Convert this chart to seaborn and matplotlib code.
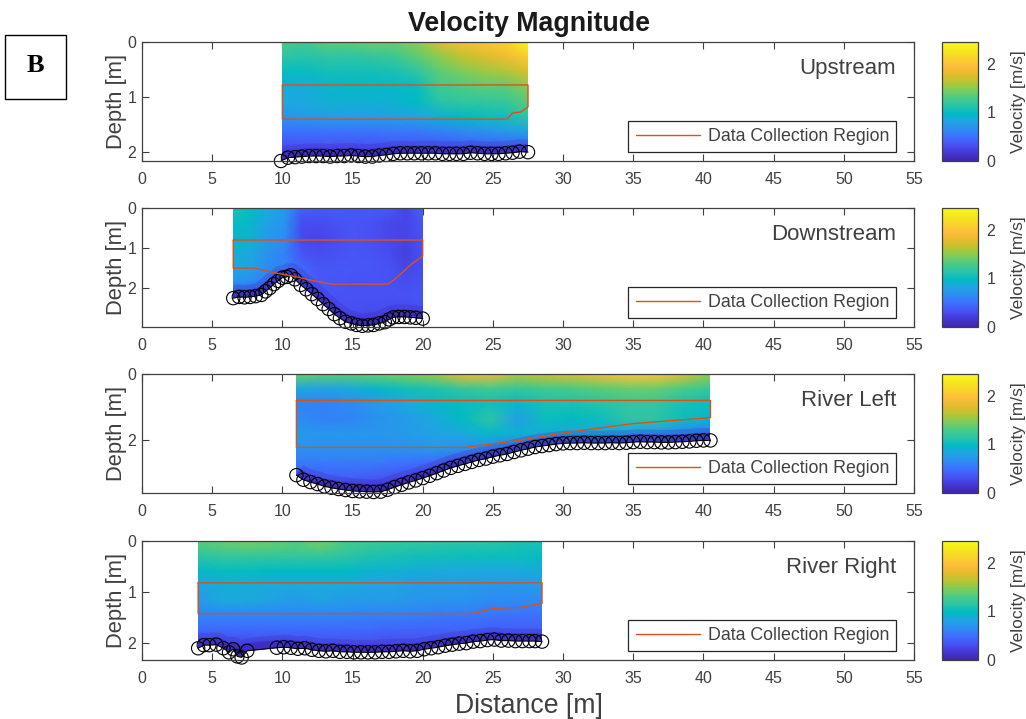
import matplotlib
matplotlib.use("Agg")
import matplotlib.pyplot as plt
from matplotlib.colors import LinearSegmentedColormap
from matplotlib.patches import Polygon, Rectangle
import numpy as np
import pandas as pd
import seaborn as sns

panel_names = ["Upstream", "Downstream", "River Left", "River Right"]
depth_limits = [2.16, 2.97, 3.6, 2.33]
depth_ticks = [[0, 1, 2], [0, 1, 2], [0, 2], [0, 1, 2]]
distance_ticks = list(range(0, 60, 5))
colorbar_ticks = [0, 1, 2]
legend_label = "Data Collection Region"

field_spans = [(10.0, 27.5), (6.5, 20.0), (11.0, 40.5), (4.0, 28.5)]

upstream_speed = [
    [1.30, 1.25, 1.35, 1.35, 1.40, 1.40, 1.50, 1.75, 1.90, 2.00, 2.10, 2.42],
    [1.15, 1.12, 1.15, 1.15, 1.18, 1.22, 1.35, 1.50, 1.65, 1.75, 1.85, 2.05],
    [1.00, 1.00, 1.05, 1.05, 1.05, 1.08, 1.15, 1.35, 1.45, 1.55, 1.60, 1.75],
    [0.88, 0.85, 0.92, 0.95, 0.95, 0.95, 1.00, 1.25, 1.30, 1.35, 1.35, 1.50],
    [0.85, 0.85, 0.90, 0.90, 0.90, 0.92, 0.98, 1.12, 1.18, 1.18, 1.20, 1.35],
    [0.72, 0.75, 0.78, 0.78, 0.78, 0.80, 0.82, 0.90, 0.98, 1.02, 1.05, 1.15],
    [0.50, 0.50, 0.52, 0.52, 0.52, 0.55, 0.55, 0.60, 0.65, 0.70, 0.75, 0.80],
    [0.32, 0.32, 0.32, 0.32, 0.32, 0.34, 0.35, 0.35, 0.38, 0.40, 0.42, 0.45],
    [0.15, 0.15, 0.15, 0.15, 0.15, 0.15, 0.15, 0.15, 0.15, 0.15, 0.15, 0.18],
]
downstream_speed = [
    [1.10, 1.00, 0.85, 0.75, 0.40, 0.38, 0.38, 0.35, 0.38, 0.38, 0.25, 0.42],
    [1.00, 0.95, 0.80, 0.70, 0.30, 0.30, 0.33, 0.35, 0.33, 0.27, 0.25, 0.35],
    [0.95, 0.90, 0.75, 0.65, 0.27, 0.25, 0.30, 0.35, 0.32, 0.27, 0.25, 0.33],
    [0.90, 0.85, 0.70, 0.60, 0.33, 0.30, 0.32, 0.35, 0.33, 0.30, 0.22, 0.33],
    [0.85, 0.80, 0.65, 0.60, 0.45, 0.35, 0.36, 0.36, 0.35, 0.33, 0.25, 0.30],
    [0.70, 0.65, 0.55, 0.50, 0.42, 0.37, 0.35, 0.33, 0.33, 0.33, 0.30, 0.33],
    [0.32, 0.30, 0.28, 0.28, 0.30, 0.33, 0.33, 0.33, 0.33, 0.33, 0.33, 0.35],
    [0.15, 0.15, 0.15, 0.15, 0.20, 0.26, 0.30, 0.30, 0.28, 0.28, 0.26, 0.30],
    [0.10, 0.10, 0.10, 0.10, 0.12, 0.15, 0.18, 0.18, 0.18, 0.18, 0.18, 0.20],
]
river_left_speed = [
    [1.40, 1.35, 1.35, 1.40, 1.45, 1.55, 1.80, 1.85, 1.60, 1.70, 1.75, 1.85, 2.00, 2.00, 1.75, 1.50],
    [0.85, 0.80, 0.85, 0.95, 1.05, 1.10, 1.20, 1.25, 1.20, 1.25, 1.30, 1.35, 1.40, 1.40, 1.30, 1.20],
    [0.62, 0.60, 0.65, 0.75, 0.85, 0.95, 1.00, 1.05, 0.95, 1.08, 1.08, 1.12, 1.18, 1.18, 1.08, 1.02],
    [0.65, 0.60, 0.62, 0.70, 0.75, 0.85, 0.98, 1.15, 0.78, 1.02, 0.98, 1.02, 1.15, 1.15, 1.02, 0.92],
    [0.75, 0.72, 0.72, 0.72, 0.75, 0.80, 0.85, 0.95, 0.90, 0.88, 0.85, 0.85, 0.78, 0.72, 0.62, 0.55],
    [0.70, 0.70, 0.70, 0.70, 0.70, 0.75, 0.70, 0.65, 0.55, 0.45, 0.40, 0.35, 0.30, 0.30, 0.30, 0.30],
    [0.55, 0.55, 0.55, 0.55, 0.50, 0.45, 0.35, 0.30, 0.20, 0.18, 0.15, 0.15, 0.15, 0.15, 0.15, 0.15],
    [0.35, 0.40, 0.40, 0.35, 0.30, 0.20, 0.15, 0.12, 0.10, 0.10, 0.10, 0.10, 0.10, 0.10, 0.10, 0.10],
    [0.15, 0.15, 0.12, 0.12, 0.12, 0.10, 0.10, 0.10, 0.10, 0.10, 0.10, 0.10, 0.10, 0.10, 0.10, 0.10],
]
river_right_speed = [
    [1.35, 1.40, 1.45, 1.40, 1.35, 1.45, 1.30, 1.25, 1.20, 1.20, 1.15, 1.15, 1.15, 1.10, 1.10],
    [1.15, 1.20, 1.20, 1.20, 1.20, 1.20, 1.15, 1.10, 1.08, 1.05, 1.05, 1.02, 1.02, 1.02, 1.00],
    [0.95, 1.00, 1.00, 0.98, 0.98, 0.98, 0.98, 0.92, 0.90, 0.88, 0.85, 0.85, 0.85, 0.85, 0.88],
    [0.80, 0.88, 0.88, 0.85, 0.85, 0.85, 0.85, 0.80, 0.80, 0.75, 0.75, 0.75, 0.72, 0.72, 0.75],
    [0.75, 0.85, 0.85, 0.80, 0.75, 0.80, 0.75, 0.75, 0.75, 0.72, 0.70, 0.70, 0.65, 0.65, 0.65],
    [0.62, 0.62, 0.62, 0.62, 0.62, 0.62, 0.62, 0.60, 0.60, 0.58, 0.55, 0.55, 0.52, 0.50, 0.50],
    [0.45, 0.45, 0.45, 0.45, 0.45, 0.45, 0.45, 0.45, 0.42, 0.42, 0.42, 0.42, 0.40, 0.40, 0.40],
    [0.25, 0.25, 0.25, 0.25, 0.28, 0.30, 0.30, 0.30, 0.28, 0.28, 0.28, 0.25, 0.20, 0.20, 0.20],
    [0.12, 0.12, 0.12, 0.12, 0.12, 0.12, 0.12, 0.12, 0.12, 0.12, 0.12, 0.12, 0.12, 0.12, 0.12],
]

upstream_bed_x = [9.9, 10.4, 10.9, 11.4, 11.9, 12.4, 12.9, 13.4, 13.9, 14.4, 14.9, 15.4, 15.9, 16.4,
                  16.9, 17.4, 17.9, 18.4, 18.9, 19.4, 19.9, 20.4, 20.9, 21.4, 21.9, 22.4, 22.9, 23.4,
                  23.9, 24.4, 24.9, 25.4, 25.9, 26.4, 26.9, 27.5]
upstream_bed_depth = [2.16, 2.10, 2.09, 2.08, 2.07, 2.07, 2.07, 2.08, 2.07, 2.07, 2.06, 2.07, 2.08, 2.08,
                      2.06, 2.05, 2.03, 2.02, 2.02, 2.02, 2.02, 2.02, 2.02, 2.03, 2.03, 2.03, 2.03, 2.01,
                      2.02, 2.03, 2.03, 2.03, 2.02, 2.01, 1.99, 2.00]
downstream_bed_x = [6.5, 6.9, 7.3, 7.7, 8.1, 8.5, 8.8, 9.1, 9.4, 9.7, 10.0, 10.3, 10.6, 10.9, 11.3, 11.7,
                    12.1, 12.5, 12.9, 13.3, 13.7, 14.1, 14.5, 14.9, 15.3, 15.7, 16.1, 16.5, 16.9, 17.3,
                    17.6, 17.9, 18.3, 18.7, 19.1, 19.5, 20.0]
downstream_bed_depth = [2.25, 2.22, 2.23, 2.22, 2.20, 2.17, 2.08, 2.00, 1.90, 1.82, 1.74, 1.72, 1.68, 1.78,
                        1.92, 2.03, 2.15, 2.27, 2.40, 2.52, 2.65, 2.75, 2.84, 2.88, 2.92, 2.94, 2.93, 2.92,
                        2.88, 2.85, 2.78, 2.73, 2.72, 2.72, 2.73, 2.74, 2.76]
river_left_bed_x = [11.0, 11.5, 12.0, 12.5, 13.0, 13.5, 14.0, 14.5, 15.0, 15.5, 16.0, 16.5, 17.0, 17.5,
                    18.0, 18.5, 19.0, 19.5, 20.0, 20.5, 21.0, 21.5, 22.0, 22.5, 23.0, 23.5, 24.0, 24.5,
                    25.0, 25.5, 26.0, 26.5, 27.0, 27.5, 28.0, 28.5, 29.0, 29.5, 30.0, 30.5, 31.0, 31.5,
                    32.0, 32.5, 33.0, 33.5, 34.0, 34.5, 35.0, 35.5, 36.0, 36.5, 37.0, 37.5, 38.0, 38.5,
                    39.0, 39.5, 40.0, 40.5]
river_left_bed_depth = [3.06, 3.20, 3.27, 3.33, 3.40, 3.44, 3.48, 3.51, 3.54, 3.55, 3.56, 3.57, 3.56, 3.50,
                        3.42, 3.35, 3.28, 3.22, 3.15, 3.08, 3.00, 2.92, 2.84, 2.78, 2.72, 2.66, 2.60, 2.56,
                        2.50, 2.46, 2.42, 2.36, 2.31, 2.26, 2.21, 2.18, 2.15, 2.12, 2.10, 2.09, 2.09, 2.08,
                        2.09, 2.09, 2.09, 2.08, 2.09, 2.08, 2.06, 2.05, 2.06, 2.06, 2.07, 2.07, 2.06, 2.05,
                        2.04, 2.02, 2.01, 2.01]
river_right_bed_x = [4.0, 4.4, 4.8, 5.3, 5.8, 6.2, 6.5, 6.8, 7.1, 7.5, 9.6, 10.1, 10.6, 11.1, 11.6, 12.1,
                     12.6, 13.1, 13.6, 14.1, 14.6, 15.1, 15.6, 16.1, 16.6, 17.1, 17.6, 18.1, 18.6, 19.1,
                     19.6, 20.1, 20.6, 21.1, 21.6, 22.1, 22.6, 23.1, 23.6, 24.1, 24.6, 25.1, 25.6, 26.1,
                     26.6, 27.1, 27.6, 28.0, 28.5]
river_right_bed_depth = [2.10, 2.04, 2.04, 2.03, 2.10, 2.18, 2.12, 2.26, 2.28, 2.15, 2.09, 2.08, 2.09, 2.11,
                         2.10, 2.13, 2.15, 2.16, 2.15, 2.17, 2.17, 2.18, 2.18, 2.18, 2.18, 2.17, 2.17, 2.16,
                         2.15, 2.16, 2.15, 2.12, 2.10, 2.08, 2.05, 2.03, 2.01, 2.00, 1.97, 1.96, 1.94, 1.93,
                         1.95, 1.95, 1.96, 1.96, 1.96, 1.96, 1.97]

upstream_region_x = [10.0, 27.5, 27.5, 27.0, 26.4, 26.0, 10.0, 10.0]
upstream_region_depth = [0.78, 0.78, 1.18, 1.27, 1.29, 1.40, 1.40, 0.78]
downstream_region_x = [6.5, 20.0, 20.0, 19.2, 18.0, 17.5, 13.5, 12.0, 11.0, 9.5, 8.0, 6.5, 6.5]
downstream_region_depth = [0.80, 0.80, 1.20, 1.40, 1.78, 1.90, 1.90, 1.80, 1.72, 1.62, 1.50, 1.50, 0.80]
river_left_region_x = [11.0, 40.5, 40.5, 35.0, 30.0, 27.0, 23.0, 11.0, 11.0]
river_left_region_depth = [0.80, 0.80, 1.32, 1.50, 1.78, 2.00, 2.22, 2.22, 0.80]
river_right_region_x = [4.0, 28.5, 28.5, 27.0, 25.0, 23.5, 4.0, 4.0]
river_right_region_depth = [0.82, 0.82, 1.22, 1.30, 1.32, 1.42, 1.42, 0.82]

speed_fields = [upstream_speed, downstream_speed, river_left_speed, river_right_speed]
bed_x = [upstream_bed_x, downstream_bed_x, river_left_bed_x, river_right_bed_x]
bed_depth = [upstream_bed_depth, downstream_bed_depth, river_left_bed_depth, river_right_bed_depth]
region_x = [upstream_region_x, downstream_region_x, river_left_region_x, river_right_region_x]
region_depth = [upstream_region_depth, downstream_region_depth, river_left_region_depth, river_right_region_depth]

# MATLAB parula colormap
parula = LinearSegmentedColormap.from_list("parula", [
    (.2422, .1504, .6603), (.2706, .2147, .8364), (.2810, .3228, .9579), (.2440, .4358, .9988),
    (.1764, .5499, .9520), (.1248, .6459, .8883), (.0067, .7312, .7660), (.1717, .7670, .6554),
    (.2906, .7973, .5188), (.5044, .7993, .3480), (.7242, .7698, .1910), (.9035, .7330, .1774),
    (.9956, .7434, .2371), (.9786, .8300, .1653), (.9597, .9059, .1127), (.9769, .9839, .0805)], N=256)

sns.set_theme(style="white")
plt.rcParams["font.family"] = ["Liberation Sans", "DejaVu Sans"]
INK = "#404040"
ORANGE = "#D95319"
BED = "#3A22B0"
W, H = 1026, 719
fig = plt.figure(figsize=(W / 100, H / 100), dpi=100, facecolor="white")

tops = [42, 208, 374, 541]
for i, top in enumerate(tops):
    ax = fig.add_axes([142 / W, 1 - (top + 119) / H, 772 / W, 119 / H])
    cax = fig.add_axes([942 / W, 1 - (top + 119) / H, 36 / W, 119 / H])
    ymax = depth_limits[i]
    x0, x1 = field_spans[i]
    ax.set_xlim(0, 55)
    ax.set_ylim(ymax, 0)

    hax = ax.inset_axes([x0 / 55, 0, (x1 - x0) / 55, 1])
    hax.set_zorder(0.5)
    field = pd.DataFrame(speed_fields[i])
    sns.heatmap(field, ax=hax, cmap=parula, vmin=0, vmax=2.45, cbar=True, cbar_ax=cax,
                xticklabels=False, yticklabels=False, shading="gouraud",
                cbar_kws={"ticks": colorbar_ticks})
    hax.set_xlim(0, field.shape[1] - 1)
    hax.set_ylim(field.shape[0] - 1, 0)
    hax.axis("off")

    outline = [(bed_x[i][0], 0)] + list(zip(bed_x[i], bed_depth[i])) + [(bed_x[i][-1], 0)]
    clip = Polygon(outline, closed=True, transform=ax.transData)
    hax.collections[0].set_clip_path(clip)

    # dark band of slow water directly above the bed
    for width, alpha in [(18, 0.22), (11, 0.55)]:
        sns.lineplot(x=bed_x[i], y=bed_depth[i], ax=ax, color=BED, lw=width, alpha=alpha,
                     sort=False, estimator=None, zorder=1.5, solid_capstyle="butt")
        ax.lines[-1].set_clip_path(clip)

    sns.lineplot(x=bed_x[i], y=bed_depth[i], ax=ax, color="black", lw=0.8, sort=False,
                 estimator=None, zorder=3)
    sns.scatterplot(x=bed_x[i], y=bed_depth[i], ax=ax, s=92, marker="o", zorder=4, clip_on=False)
    pts = ax.collections[-1]
    pts.set_facecolor("none")
    pts.set_edgecolor("black")
    pts.set_linewidth(0.8)

    sns.lineplot(x=region_x[i], y=region_depth[i], ax=ax, color=ORANGE, lw=1.0, sort=False,
                 estimator=None, label=legend_label, zorder=5)

    ax.set_xlim(0, 55)
    ax.set_ylim(ymax, 0)
    ax.set_xticks(distance_ticks)
    ax.set_yticks(depth_ticks[i])
    ax.tick_params(axis="both", direction="in", top=True, right=True, bottom=True, left=True,
                   length=5, width=0.8, color=INK, labelcolor=INK, labelsize=11.5)
    ax.tick_params(axis="x", pad=8)
    ax.tick_params(axis="y", pad=4)
    for s in ax.spines.values():
        s.set_color(INK)
        s.set_linewidth(0.9)
        s.set_zorder(6)
    ax.set_ylabel("Depth [m]", fontsize=15.8, color=INK)
    ax.yaxis.set_label_coords(-0.019, 0.5)
    ax.set_xlabel("")
    ax.text(0.9767, 0.775, panel_names[i], transform=ax.transAxes, ha="right", va="center",
            fontsize=16, color=INK)

    leg = ax.legend(loc="lower right", bbox_to_anchor=(0.9767, 0.076), borderaxespad=0,
                    fontsize=12.8, frameon=True, fancybox=False, framealpha=1, edgecolor="#262626",
                    handlelength=3.65, handletextpad=0.4, borderpad=0.4)
    leg.get_frame().set_linewidth(0.9)
    for t in leg.get_texts():
        t.set_color(INK)

    cax.tick_params(length=0, labelsize=11.5, labelcolor=INK, pad=6)
    cax.set_ylabel("Velocity [m/s]", fontsize=12.5, color=INK)
    cax.yaxis.set_label_coords(1.92, 0.5)
    cbar = hax.collections[0].colorbar
    cbar.outline.set_linewidth(0.9)
    cbar.outline.set_edgecolor(INK)

fig.text(528.5 / W, 1 - 24 / H, "Velocity Magnitude", ha="center", va="center", fontsize=19.3,
         fontweight="bold", color="#1a1a1a")
fig.text(528.5 / W, 1 - 706 / H, "Distance [m]", ha="center", va="center", fontsize=19.2, color=INK)

fig.add_artist(Rectangle((5 / W, 1 - 99 / H), 61 / W, 64 / H, transform=fig.transFigure,
                         facecolor="white", edgecolor="black", linewidth=1))
fig.text(35.5 / W, 1 - 65 / H, "B", ha="center", va="center", fontsize=19, fontweight="bold",
         family=["Liberation Serif"], color="black")

fig.savefig("out.png", dpi=100)
